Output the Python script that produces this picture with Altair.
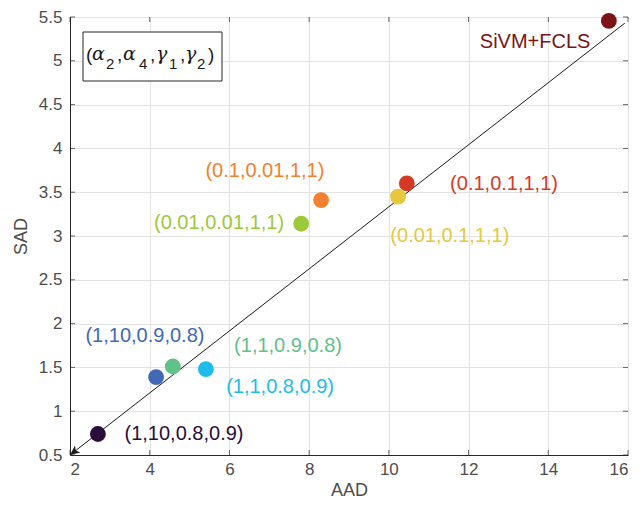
import altair as alt
import pandas as pd

# Data
labels = ["SiVM+FCLS", "(0.1,0.1,1,1)", "(0.01,0.1,1,1)", "(0.1,0.01,1,1)",
          "(0.01,0.01,1,1)", "(1,10,0.9,0.8)", "(1,1,0.9,0.8)", "(1,1,0.8,0.9)",
          "(1,10,0.8,0.9)"]
aad = [15.52, 10.45, 10.23, 8.30, 7.80, 4.16, 4.58, 5.41, 2.70]
sad = [5.455, 3.60, 3.45, 3.41, 3.14, 1.39, 1.51, 1.48, 0.74]
colors = ["#7B1416", "#D63A27", "#E6C83C", "#F3812F", "#9CC93A", "#4169B6",
          "#60C289", "#1DBDEB", "#2B0D3B"]
# label anchor positions (data units)
label_x = [13.67, 12.89, 11.53, 6.89, 5.74, 3.88, 7.47, 7.27, 4.86]
label_y = [5.22, 3.59, 3.00, 3.74, 3.15, 1.86, 1.75, 1.28, 0.74]

x_ticks = [2, 4, 6, 8, 10, 12, 14, 16]
y_ticks = [0.5, 1, 1.5, 2, 2.5, 3, 3.5, 4, 4.5, 5, 5.5]

line_x = [15.92, 2.0]
line_y = [5.43, 0.5]

# legend-box text pieces (text, italic?, subscript?)
box_pieces = ["(", "α", "2", ",", "α", "4", ",", "γ", "1", ",", "γ", "2", ")"]
box_kind = ["n", "i", "s", "n", "i", "s", "n", "i", "s", "n", "i", "s", "n"]
box_px = [16, 22, 36, 47, 53, 69, 80, 86, 99, 110, 115, 127, 138]

df = pd.DataFrame({"label": labels, "AAD": aad, "SAD": sad, "color": colors,
                   "lx": label_x, "ly": label_y})
ldf = pd.DataFrame({"AAD": line_x, "SAD": line_y, "o": [0, 1]})
xt = pd.DataFrame({"v": x_ticks})
yt = pd.DataFrame({"v": y_ticks})
bp = pd.DataFrame({"t": box_pieces, "k": box_kind, "px": box_px})

FONT = "Liberation Sans"
GRAY = "#4D4D4D"
W, H = 558, 438
xs = alt.Scale(domain=[2, 16], nice=False, zero=False)
ys = alt.Scale(domain=[0.5, 5.5], nice=False, zero=False)

xax = alt.Axis(values=x_ticks, title="AAD", grid=True, ticks=False,
               labelFontSize=17, titleFontSize=18, labelColor=GRAY,
               titleColor=GRAY, labelPadding=6, titlePadding=4,
               domainColor="#262626", gridColor="#E3E3E3", labelFont=FONT,
               titleFont=FONT, titleFontWeight="normal")
yax = alt.Axis(values=y_ticks, title="SAD",
               grid=True, ticks=False, labelFontSize=17, titleFontSize=18,
               labelColor=GRAY, titleColor=GRAY, labelPadding=8,
               titlePadding=8, domainColor="#262626", gridColor="#E3E3E3",
               labelFont=FONT, titleFont=FONT, titleFontWeight="normal",
               labelExpr="datum.value")

line = alt.Chart(ldf).mark_line(color="#1A1A1A", strokeWidth=1).encode(
    x=alt.X("AAD:Q", scale=xs, axis=xax),
    y=alt.Y("SAD:Q", scale=ys, axis=yax),
    order="o:O")

arrow = alt.Chart(ldf[ldf.o == 1]).mark_point(
    shape="M 0 0 L -1 -0.45 L -0.75 0 L -1 0.45 Z", filled=True, fill="#1A1A1A",
    size=380, angle=142, opacity=1).encode(
    x=alt.X("AAD:Q", scale=xs), y=alt.Y("SAD:Q", scale=ys))

# inside tick marks on all four sides
tk = dict(color="#262626", thickness=1, size=5)
tb = alt.Chart(xt).mark_tick(orient="vertical", **tk).encode(
    x=alt.X("v:Q", scale=xs), y=alt.value(H - 2.5))
tt = alt.Chart(xt).mark_tick(orient="vertical", **tk).encode(
    x=alt.X("v:Q", scale=xs), y=alt.value(2.5))
tl = alt.Chart(yt).mark_tick(orient="horizontal", **tk).encode(
    y=alt.Y("v:Q", scale=ys), x=alt.value(2.5))
tr = alt.Chart(yt).mark_tick(orient="horizontal", **tk).encode(
    y=alt.Y("v:Q", scale=ys), x=alt.value(W - 2.5))

base = alt.Chart(df)
pts = base.mark_point(filled=True, size=250, opacity=1).encode(
    x=alt.X("AAD:Q", scale=xs), y=alt.Y("SAD:Q", scale=ys),
    color=alt.Color("color:N", scale=None))

txt = base.mark_text(fontSize=20, font=FONT).encode(
    x=alt.X("lx:Q", scale=xs), y=alt.Y("ly:Q", scale=ys),
    text="label:N", color=alt.Color("color:N", scale=None))

box = alt.Chart(df.head(1)).mark_rect(fill="white", stroke="#262626", strokeWidth=1).encode(
    x=alt.value(13), x2=alt.value(152), y=alt.value(15), y2=alt.value(64))

bt_main = alt.Chart(bp[bp.k == "n"]).mark_text(
    fontSize=19, font=FONT, color="#1A1A1A", align="left", baseline="alphabetic").encode(
    x=alt.X("px:Q", scale=None), y=alt.value(44), text="t:N")
bt_it = alt.Chart(bp[bp.k == "i"]).mark_text(
    fontSize=19, font="DejaVu Serif", fontStyle="italic", color="#1A1A1A",
    align="left", baseline="alphabetic").encode(
    x=alt.X("px:Q", scale=None), y=alt.value(43), text="t:N")
bt_sub = alt.Chart(bp[bp.k == "s"]).mark_text(
    fontSize=15, font=FONT, color="#1A1A1A", align="left", baseline="alphabetic").encode(
    x=alt.X("px:Q", scale=None), y=alt.value(52), text="t:N")

chart = alt.layer(line, arrow, tb, tt, tl, tr, pts, txt, box, bt_main, bt_it, bt_sub).properties(
    width=W, height=H,
    autosize=alt.AutoSizeParams(type="none"),
    padding={"left": 62, "top": 9, "right": 6, "bottom": 45},
).configure_view(stroke="#262626", strokeWidth=1).configure(background="white")

chart.save("out.html", embed_options={"renderer": "svg", "actions": False})
